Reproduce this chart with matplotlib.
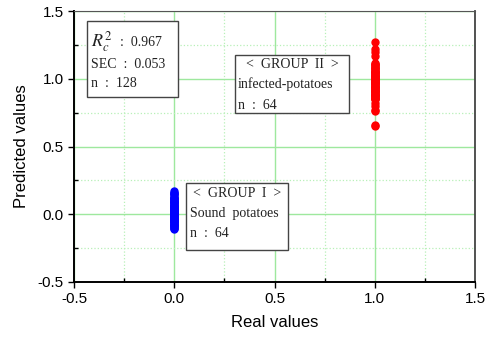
import matplotlib
matplotlib.use('Agg')
import matplotlib.pyplot as plt
from matplotlib.patches import Rectangle
from matplotlib.ticker import MultipleLocator

plt.rcParams['mathtext.fontset'] = 'stix'

# group I : sound potatoes (real value 0)
sound_real = [0.0] * 64
sound_pred = [-0.11, -0.10, -0.10, -0.09, -0.09, -0.08, -0.08, -0.07, -0.07, -0.06,
              -0.06, -0.05, -0.05, -0.05, -0.04, -0.04, -0.03, -0.03, -0.03, -0.02,
              -0.02, -0.02, -0.01, -0.01, -0.01, 0.00, 0.00, 0.00, 0.00, 0.01,
              0.01, 0.01, 0.02, 0.02, 0.02, 0.03, 0.03, 0.03, 0.04, 0.04,
              0.04, 0.05, 0.05, 0.05, 0.06, 0.06, 0.07, 0.07, 0.08, 0.08,
              0.09, 0.09, 0.10, 0.10, 0.11, 0.11, 0.12, 0.12, 0.13, 0.14,
              0.15, 0.16, 0.16, 0.17]

# group II : infected potatoes (real value 1)
infected_real = [1.0] * 64
infected_pred = [1.27, 1.22, 1.20, 1.17, 1.12, 1.11, 1.10, 1.10, 1.09, 1.08,
                 1.08, 1.07, 1.06, 1.06, 1.05, 1.05, 1.04, 1.04, 1.03, 1.03,
                 1.02, 1.02, 1.01, 1.01, 1.00, 1.00, 1.00, 0.99, 0.99, 0.98,
                 0.98, 0.98, 0.97, 0.97, 0.96, 0.96, 0.95, 0.95, 0.94, 0.94,
                 0.93, 0.93, 0.92, 0.92, 0.91, 0.91, 0.90, 0.90, 0.89, 0.89,
                 0.88, 0.88, 0.87, 0.87, 0.86, 0.86, 0.85, 0.85, 0.82, 0.80,
                 0.77, 0.76, 0.66, 0.65]

ticks = [-0.5, 0.0, 0.5, 1.0, 1.5]

fig = plt.figure(figsize=(4.97, 3.38), dpi=100)
ax = fig.add_axes([0.149, 0.166, 0.807, 0.801])

ax.plot(sound_real, sound_pred, 'o', color='#0000ff', markersize=5, zorder=3)
ax.plot(infected_real, infected_pred, 'o', color='#ff0000', markersize=5, zorder=3)

ax.set_xlim(-0.5, 1.5)
ax.set_ylim(-0.5, 1.5)
ax.set_xticks(ticks)
ax.set_yticks(ticks)
ax.xaxis.set_minor_locator(MultipleLocator(0.25))
ax.yaxis.set_minor_locator(MultipleLocator(0.25))
ax.set_xticklabels(['-0.5', '0.0', '0.5', '1.0', '1.5'])
ax.set_yticklabels(['-0.5', '0.0', '0.5', '1.0', '1.5'])

ax.grid(which='major', color='#9ee89e', linestyle='-', linewidth=1)
ax.grid(which='minor', color='#b8f0b8', linestyle=':', linewidth=0.9)
ax.set_axisbelow(True)

ax.tick_params(which='major', direction='out', length=4, width=1, labelsize=11,
               top=False, right=False)
ax.tick_params(which='minor', direction='in', length=3, width=1, top=False, right=False)
for lab in ax.get_xticklabels() + ax.get_yticklabels():
    lab.set_family('Liberation Sans')

ax.spines['left'].set_linewidth(1.4)
ax.spines['bottom'].set_linewidth(1.4)
ax.spines['top'].set_color('#555555')
ax.spines['right'].set_color('#444444')
ax.spines['right'].set_linewidth(1.3)

ax.set_xlabel('Real values', fontsize=12, family='Liberation Sans', labelpad=6)
ax.set_ylabel('Predicted values', fontsize=12, family='Liberation Sans', labelpad=6)

serif = dict(family='Liberation Serif', fontsize=10, color='#222222',
             transform=ax.transAxes, va='center', zorder=6)

# statistics box
ax.add_patch(Rectangle((0.032, 0.683), 0.227, 0.280, transform=ax.transAxes,
                       facecolor='white', edgecolor='#444444', lw=1, zorder=5))
ax.text(0.042, 0.886, r'$R_c^2$', fontsize=13, **{k: v for k, v in serif.items() if k != 'fontsize'})
ax.text(0.115, 0.886, ':  0.967', **serif)
ax.text(0.042, 0.804, 'SEC  :  0.053', **serif)
ax.text(0.042, 0.731, 'n  :  128', **serif)

# group II box
ax.add_patch(Rectangle((0.401, 0.624), 0.285, 0.214, transform=ax.transAxes,
                       facecolor='white', edgecolor='#444444', lw=1, zorder=5))
ax.text(0.544, 0.804, '<  GROUP  II  >', ha='center', **serif)
ax.text(0.409, 0.731, 'infected-potatoes', **serif)
ax.text(0.409, 0.653, 'n  :  64', **serif)

# group I box
ax.add_patch(Rectangle((0.279, 0.118), 0.255, 0.247, transform=ax.transAxes,
                       facecolor='white', edgecolor='#444444', lw=1, zorder=5))
ax.text(0.406, 0.328, '<  GROUP  I  >', ha='center', **serif)
ax.text(0.289, 0.251, 'Sound  potatoes', **serif)
ax.text(0.289, 0.177, 'n  :  64', **serif)

fig.savefig('out.png', dpi=100)
